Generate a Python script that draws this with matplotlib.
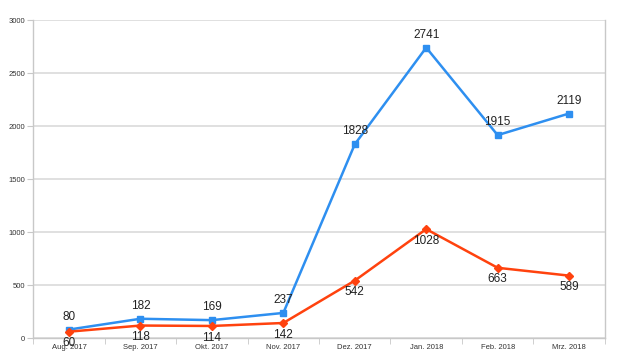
import matplotlib
matplotlib.use('Agg')
from matplotlib import pyplot as plt

months = ['Aug. 2017', 'Sep. 2017', 'Okt. 2017', 'Nov. 2017',
          'Dez. 2017', 'Jan. 2018', 'Feb. 2018', 'Mrz. 2018']
blue_vals = [80, 182, 169, 237, 1828, 2741, 1915, 2119]
red_vals = [60, 118, 114, 142, 542, 1028, 663, 589]
y_ticks = [0, 500, 1000, 1500, 2000, 2500, 3000]

plt.rcParams['font.family'] = ['Liberation Sans', 'DejaVu Sans']

fig = plt.figure(figsize=(6.4, 3.6), dpi=100)
ax = fig.add_axes([0.052, 0.061, 0.893, 0.883])

x = list(range(len(months)))
ax.plot(x, blue_vals, color='#2e8ff0', lw=1.8, marker='s', ms=5, zorder=3)
ax.plot(x, red_vals, color='#ff420e', lw=1.8, marker='D', ms=4, zorder=3)

for i, v in enumerate(blue_vals):
    ax.annotate(str(v), (i, v), xytext=(0, 5), textcoords='offset points',
                ha='center', va='bottom', fontsize=8.5, color='#222222')
for i, v in enumerate(red_vals):
    ax.annotate(str(v), (i, v), xytext=(0, -4), textcoords='offset points',
                ha='center', va='top', fontsize=8.5, color='#222222')

ax.set_xlim(-0.5, len(months) - 0.5)
ax.set_ylim(0, 3000)
ax.set_yticks(y_ticks)
ax.set_yticklabels([str(t) for t in y_ticks], fontsize=5.5, color='#333333')
ax.set_xticks(x)
ax.set_xticklabels(months, fontsize=5.5, color='#333333')
ax.set_xticks([i + 0.5 for i in range(-1, len(months))], minor=True)
ax.tick_params(axis='x', which='major', length=0, pad=4)
ax.tick_params(axis='x', which='minor', length=4, color='#c8c8c8')
ax.tick_params(axis='y', length=4, color='#c8c8c8', pad=2)

ax.grid(axis='y', color='#dadada', lw=1.2)
ax.set_axisbelow(True)
for side in ['top']:
    ax.spines[side].set_visible(False)
for side in ['left', 'right', 'bottom']:
    ax.spines[side].set_color('#c8c8c8')
    ax.spines[side].set_linewidth(1.0)

fig.savefig('out.png', dpi=100)
